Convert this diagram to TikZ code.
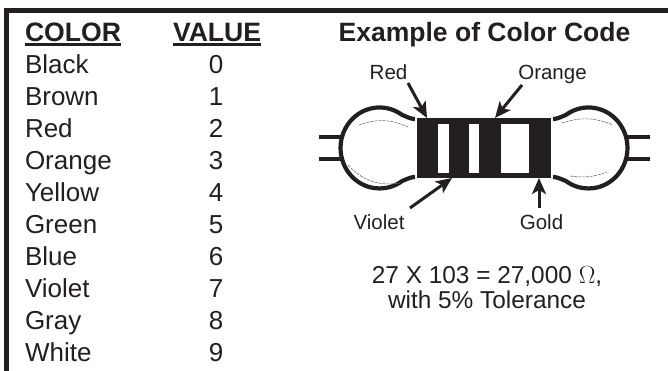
\documentclass[tikz,border=0pt]{standalone}
\usepackage{fontspec}
\setmainfont{Liberation Sans}
\usetikzlibrary{arrows.meta}
\definecolor{ink}{HTML}{231F20}
\tikzset{
  x=1pt,y=1pt,
  base/.style={inner sep=0pt,outer sep=0pt,text=ink},
  rowtext/.style={base,anchor=base west,font=\fontsize{26}{30}\selectfont},
  digit/.style={base,anchor=base,font=\fontsize{26}{30}\selectfont},
  headtext/.style={base,anchor=base west,font=\fontsize{26.6}{30}\selectfont\bfseries},
  smalltext/.style={base,anchor=base,font=\fontsize{20.5}{24}\selectfont},
  formula/.style={base,anchor=base,font=\fontsize{24.4}{28}\selectfont},
  frame/.style={fill=ink,draw=none},
  rule/.style={draw=ink,line width=2.4pt},
  outline/.style={draw=ink,line width=4.2pt,fill=white,line join=round},
  lead/.style={draw=ink,line width=4.4pt},
  band/.style={fill=white,draw=none},
  highlight/.style={draw=ink!65,line width=0.6pt,dash pattern=on 3pt off 1pt},
  pointer/.style={draw=ink,line width=3pt,-{Stealth[length=16pt,width=14pt,inset=4pt]},shorten >=0pt}
}
\begin{document}
\begin{tikzpicture}
\useasboundingbox (0,0) rectangle (668,371);
\fill[white] (0,0) rectangle (668,371);
% frame
\fill[frame] (4,0) rectangle (9,363);
\fill[frame] (4,358) rectangle (668,363);
% headers
\node[headtext] (h1) at (25,329) {COLOR};
\node[headtext] (h2) at (173,329) {VALUE};
\draw[rule] ([yshift=-2.5pt]h1.base west) -- ([yshift=-2.5pt]h1.base east);
\draw[rule] ([yshift=-2.5pt]h2.base west) -- ([yshift=-2.5pt]h2.base east);
\node[base,anchor=base,font=\fontsize{26.5}{30}\selectfont\bfseries] (title) at (484.5,329) {Example of Color Code};
% rows
\node[rowtext] (c0) at (25,297) {Black};   \node[digit] (v0) at (216,297) {0};
\node[rowtext] (c1) at (25,265) {Brown};   \node[digit] (v1) at (216,265) {1};
\node[rowtext] (c2) at (25,233) {Red};     \node[digit] (v2) at (216,233) {2};
\node[rowtext] (c3) at (25,201) {Orange};  \node[digit] (v3) at (216,201) {3};
\node[rowtext] (c4) at (25,169) {Yellow};  \node[digit] (v4) at (216,169) {4};
\node[rowtext] (c5) at (25,137) {Green};   \node[digit] (v5) at (216,137) {5};
\node[rowtext] (c6) at (25,105) {Blue};    \node[digit] (v6) at (216,105) {6};
\node[rowtext] (c7) at (25,73)  {Violet};  \node[digit] (v7) at (216,73)  {7};
\node[rowtext] (c8) at (25,41)  {Gray};    \node[digit] (v8) at (216,41)  {8};
\node[rowtext] (c9) at (25,9)   {White};   \node[digit] (v9) at (216,9)   {9};
% leads
\draw[lead] (319,234) -- (342,234);
\draw[lead] (319,212) -- (342,212);
\draw[lead] (622,234) -- (650,234);
\draw[lead] (622,212) -- (650,212);
% end caps
\draw[outline] (415,252) .. controls (411,252) and (407,254) .. (401.9,256.2)
  arc[start angle=55,end angle=305,x radius=39,y radius=40.5]
  .. controls (407,192) and (411,194) .. (415,194);
\draw[outline] (553,252) .. controls (557,252) and (561,254) .. (566.1,256.2)
  arc[start angle=125,end angle=-125,x radius=39,y radius=40.5]
  .. controls (561,192) and (557,194) .. (553,194);
\draw[highlight] (359,246) to[bend left=22] (408,244);
\draw[highlight] (348,206) to[bend right=28] (400,188);
\draw[highlight] (562,248) to[bend left=20] (613,246);
\draw[highlight] (570,195) to[bend right=14] (607,199);
% body and bands
\fill[ink] (417,193) rectangle (551,253);
\fill[band] (438,198) rectangle (449,247);
\fill[band] (469,198) rectangle (479,247);
\fill[band] (501,198) rectangle (529,247);
% labels
\node[smalltext] (lred) at (388.5,291) {Red};
\node[smalltext] (lorange) at (552.5,291) {Orange};
\node[smalltext] (lviolet) at (379,141) {Violet};
\node[smalltext] (lgold) at (541.5,141) {Gold};
% pointers
\coordinate (sred) at (408,288);
\coordinate (tred) at (427,253);
\coordinate (sorange) at (522,286);
\coordinate (torange) at (495,253);
\coordinate (sviolet) at (410,163);
\coordinate (tviolet) at (452,193);
\coordinate (sgold) at (539,163);
\coordinate (tgold) at (539,193);
\draw[pointer] (sred) -- (tred);
\draw[pointer] (sorange) -- (torange);
\draw[pointer] (sviolet) -- (tviolet);
\draw[pointer] (sgold) -- (tgold);
% formula
\node[formula] (f1) at (487,87) {27 X 103 = 27,000 $\Omega$,};
\node[formula] (f2) at (487,62) {with 5\% Tolerance};
\end{tikzpicture}
\end{document}
